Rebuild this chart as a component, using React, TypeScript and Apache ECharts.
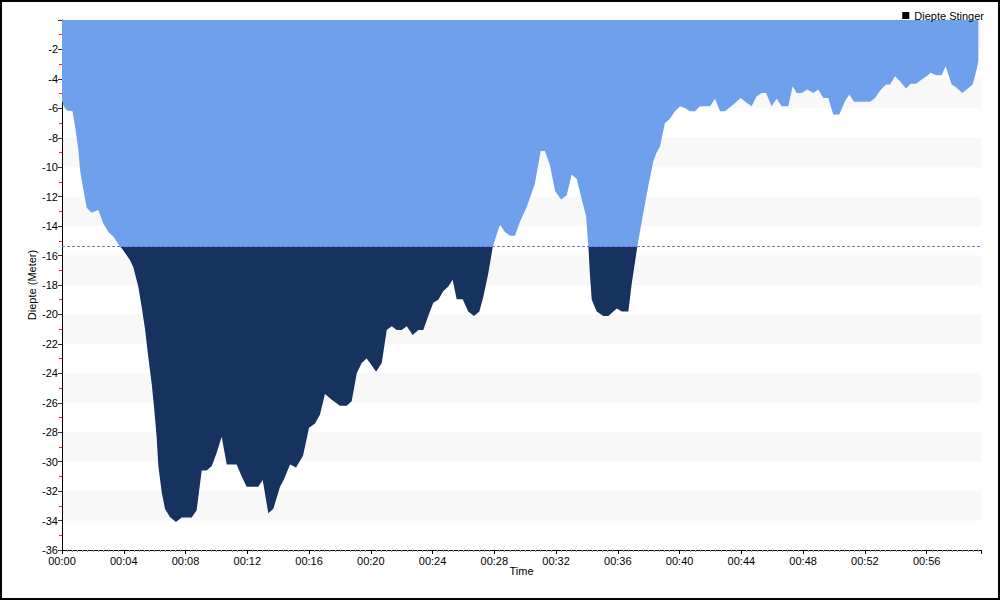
import React, { useEffect, useRef } from "react";
import * as echarts from "echarts";

// Time in minutes since start, depth in meters
const TIME_MIN = [
  0, 0.13, 0.32, 0.68, 0.84, 1.06, 1.17, 1.38, 1.6, 1.92, 2.35, 2.67, 3.0, 3.32, 3.76, 3.87,
  4.4, 4.62, 4.94, 5.16, 5.38, 5.59, 5.81, 5.96, 6.13, 6.24, 6.46, 6.67, 6.99, 7.38, 7.75,
  8.4, 8.72, 9.05, 9.37, 9.7, 10.02, 10.34, 10.67, 11.31, 11.64, 11.96, 12.71, 13.0, 13.36,
  13.69, 14.12, 14.38, 14.77, 15.16, 15.61, 16.0, 16.39, 16.71, 17.03, 17.47, 18.0, 18.44,
  18.76, 19.09, 19.41, 19.73, 19.95, 20.34, 20.71, 21.03, 21.35, 21.68, 22.0, 22.33, 22.71,
  23.08, 23.4, 23.72, 24.05, 24.37, 24.7, 25.02, 25.3, 25.56, 25.95, 26.31, 26.68, 27.03,
  27.29, 27.61, 27.9, 28.11, 28.37, 28.69, 29.02, 29.34, 29.66, 30.1, 30.63, 31.0, 31.28,
  31.61, 31.93, 32.32, 32.69, 33.01, 33.34, 33.66, 33.94, 34.09, 34.2, 34.31, 34.63, 35.06,
  35.38, 35.93, 36.25, 36.68, 36.9, 37.26, 37.65, 37.97, 38.3, 38.51, 38.73, 39.05, 39.38,
  39.7, 40.03, 40.35, 40.67, 41.0, 41.32, 41.97, 42.29, 42.62, 42.94, 43.48, 43.96, 44.35,
  44.67, 44.99, 45.32, 45.6, 45.96, 46.29, 46.61, 47.04, 47.32, 47.58, 47.91, 48.27, 48.66,
  48.98, 49.31, 49.63, 49.95, 50.34, 50.71, 50.99, 51.3, 52.33, 52.66, 53.04, 53.37, 53.63,
  53.95, 54.27, 54.66, 54.97, 55.31, 55.68, 56.0, 56.26, 56.61, 56.97, 57.23, 57.62, 57.94,
  58.31, 58.59, 58.98, 59.24, 59.35,
];

const DEPTH = [
  -5.5, -5.9, -6.15, -6.2, -7.2, -8.8, -10.2, -11.5, -12.75, -13.1, -12.9, -13.8, -14.4, -14.7, -15.4, -15.5,
  -16.3, -16.8, -18.1, -19.5, -21.0, -22.9, -24.7, -26.3, -28.3, -30.3, -32.1, -33.2, -33.75, -34.1, -33.8,
  -33.8, -33.3, -30.6, -30.6, -30.3, -29.4, -28.3, -30.2, -30.2, -31.0, -31.7, -31.7, -31.25, -33.5,
  -33.2, -31.7, -31.2, -30.2, -30.4, -29.6, -27.7, -27.4, -26.8, -25.4, -25.8, -26.2, -26.2,
  -25.9, -24.0, -23.3, -23.0, -23.3, -23.9, -23.3, -21.05, -20.8, -21.05, -21.05, -20.8, -21.4,
  -21.05, -21.05, -20.1, -19.2, -19.0, -18.4, -18.1, -17.65, -18.96, -18.96, -19.8, -20.1, -19.8,
  -18.8, -17.2, -15.4, -14.7, -13.9, -14.4, -14.65, -14.65, -13.7, -12.7, -11.1, -8.9, -8.9,
  -9.9, -11.6, -12.2, -11.9, -10.5, -10.8, -12.2, -13.3, -15.4, -17.4, -19.0, -19.8, -20.1,
  -20.1, -19.6, -19.8, -19.8, -17.9, -15.4, -13.1, -11.3, -9.6, -9.0, -8.6, -7.0, -6.7,
  -6.2, -5.85, -5.97, -6.2, -6.2, -5.85, -5.85, -5.35, -6.2, -6.2, -5.74, -5.29, -5.63,
  -5.85, -5.18, -4.95, -4.95, -5.85, -5.35, -5.85, -5.85, -4.5, -4.95, -4.95, -4.72, -4.95,
  -4.72, -5.29, -5.29, -6.42, -6.42, -5.52, -5.06, -5.56, -5.56, -5.29, -4.72, -4.38, -4.38,
  -3.82, -4.16, -4.65, -4.33, -4.33, -4.04, -3.82, -3.59, -3.75, -3.75, -3.14, -4.38, -4.6,
  -4.95, -4.72, -4.38, -3.36, -2.8,
];

const THRESHOLD = -15.4;
const X_TICK_STEP = 4;
const X_MAX = 59.52;
const Y_MIN = -36;
const Y_MAX = 0;
const Y_TICK_STEP = 2;
const SERIES_NAME = "Diepte Stinger";

const LIGHT = "#6fa0ec";
const DARK = "#16325e";
const FONT = "Liberation Sans";

function pad2(n: number) {
  return n < 10 ? "0" + n : String(n);
}

export default function App() {
  const ref = useRef<HTMLDivElement>(null);

  useEffect(() => {
    if (!ref.current) return;
    const chart = echarts.init(ref.current, undefined, { renderer: "svg" });
    const data = TIME_MIN.map((t, i) => [t, DEPTH[i]]);

    chart.setOption({
      animation: false,
      backgroundColor: "#fff",
      textStyle: { fontFamily: FONT },
      grid: { left: 62, right: 19, top: 20, bottom: 50, containLabel: false },
      legend: {
        data: [{ name: SERIES_NAME, itemStyle: { color: "#000" } }],
        right: 16,
        top: 10,
        padding: 0,
        icon: "rect",
        itemWidth: 7,
        itemHeight: 7,
        itemGap: 4,
        textStyle: { fontSize: 11, color: "#000", fontFamily: FONT },
      },
      xAxis: {
        type: "value",
        min: 0,
        max: X_MAX,
        interval: X_TICK_STEP,
        name: "Time",
        nameLocation: "middle",
        nameGap: 15,
        nameMoveOverlap: false,
        nameTextStyle: { fontSize: 11, color: "#000", fontFamily: FONT, lineHeight: 11 },
        axisLine: { show: true, onZero: false, lineStyle: { color: "#000", width: 1 } },
        axisTick: { show: true, length: 4, lineStyle: { color: "#000" } },
        minorTick: { show: true, splitNumber: 12, length: 2, lineStyle: { color: "#999" } },
        axisLabel: {
          fontSize: 11,
          lineHeight: 11,
          color: "#000",
          margin: 5,
          fontFamily: FONT,
          showMaxLabel: false,
          formatter: (v: number) =>
            Math.abs(v % X_TICK_STEP) < 1e-6 ? "00:" + pad2(Math.round(v)) : "",
        },
        splitLine: { show: false },
      },
      yAxis: {
        type: "value",
        min: Y_MIN,
        max: Y_MAX,
        interval: Y_TICK_STEP,
        name: "Diepte (Meter)",
        nameLocation: "middle",
        nameGap: 25,
        nameMoveOverlap: false,
        nameTextStyle: { fontSize: 11, color: "#000", fontFamily: FONT },
        axisLine: { show: true, onZero: false, lineStyle: { color: "#000", width: 1 } },
        axisTick: { show: true, length: 4, lineStyle: { color: "#333" } },
        minorTick: { show: true, splitNumber: 2, length: 3, lineStyle: { color: "#ff2020" } },
        axisLabel: {
          fontSize: 11,
          lineHeight: 9,
          color: "#000",
          margin: 4,
          fontFamily: FONT,
          formatter: (v: number) => (v === 0 ? "" : String(v)),
        },
        splitLine: { show: false },
        splitArea: { show: true, areaStyle: { color: ["rgba(255,255,255,0)", "#f8f8f8"] } },
      },
      series: [
        {
          name: SERIES_NAME,
          type: "line",
          data,
          z: 3,
          showSymbol: false,
          symbol: "none",
          color: "#000",
          lineStyle: { width: 0, opacity: 0 },
          areaStyle: { opacity: 1, color: LIGHT },
          markLine: {
            silent: true,
            symbol: ["none", "none"],
            label: { show: false },
            lineStyle: { color: "#7373ff", type: [3, 2], width: 1 },
            data: [{ yAxis: THRESHOLD }],
          },
        },
      ],
      graphic: [
        {
          type: "rect",
          silent: true,
          z: 100,
          shape: { x: 1, y: 1, width: 998, height: 598 },
          style: { fill: "none", stroke: "#000", lineWidth: 2 },
        },
      ],
    });

    // Split the area's fill at the threshold depth, using the axis's own scale
    const h = chart.getHeight();
    const yPix = chart.convertToPixel({ gridIndex: 0 }, [0, THRESHOLD])[1];
    const off = Math.min(1, Math.max(0, yPix / h));
    chart.setOption({
      series: [
        {
          name: SERIES_NAME,
          areaStyle: {
            opacity: 1,
            color: new echarts.graphic.LinearGradient(
              0,
              0,
              0,
              h,
              [
                { offset: 0, color: LIGHT },
                { offset: off, color: LIGHT },
                { offset: off, color: DARK },
                { offset: 1, color: DARK },
              ],
              true
            ),
          },
        },
      ],
    });

    return () => chart.dispose();
  }, []);

  return (
    <div
      ref={ref}
      style={{ position: "absolute", left: 0, top: 0, width: 1000, height: 600 }}
    />
  );
}
